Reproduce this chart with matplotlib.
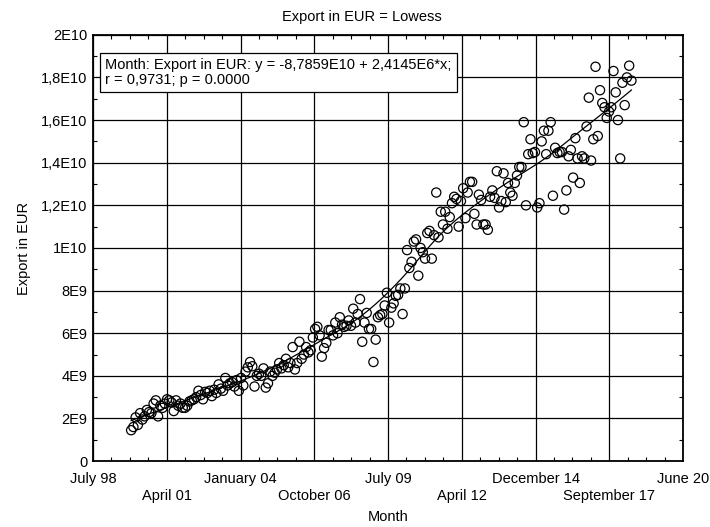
import numpy as np
import matplotlib
matplotlib.use("Agg")
import matplotlib.pyplot as plt
from matplotlib.ticker import FixedLocator, AutoMinorLocator

plt.rcParams["font.family"] = ["Liberation Sans", "DejaVu Sans"]

# Monthly export values (in 1E9 EUR), Dec 1999 .. Jul 2018
export_bn = (
    [1.45, 1.6, 2.05, 1.7, 2.25, 1.95, 2.1, 2.4, 2.3, 2.25, 2.7, 2.85]
    + [2.1, 2.6, 2.5, 2.7, 2.9, 2.85, 2.75, 2.35, 2.85, 2.6, 2.7, 2.5]
    + [2.5, 2.6, 2.8, 2.85, 2.9, 3.0, 3.3, 3.1, 2.9, 3.25, 3.2, 3.3]
    + [3.05, 3.35, 3.2, 3.6, 3.4, 3.3, 3.9, 3.55, 3.65, 3.7, 3.5, 3.8]
    + [3.3, 3.9, 3.55, 4.2, 4.4, 4.65, 4.45, 3.5, 4.0, 4.1, 4.0, 4.35]
    + [3.45, 3.65, 4.2, 4.0, 4.15, 4.3, 4.6, 4.35, 4.5, 4.8, 4.4, 4.6]
    + [5.35, 4.3, 4.6, 5.6, 4.8, 5.0, 5.35, 5.1, 5.2, 5.8, 6.2, 6.3]
    + [5.9, 4.9, 5.3, 5.55, 6.15, 6.15, 5.9, 6.5, 6.0, 6.75, 6.4, 6.3]
    + [6.35, 6.6, 6.35, 7.15, 6.5, 6.9, 7.6, 5.6, 6.5, 6.95, 6.2, 6.2]
    + [4.65, 5.7, 6.75, 6.85, 6.9, 7.3, 7.9, 6.5, 7.2, 7.4, 7.75, 7.8]
    + [8.1, 6.9, 8.1, 9.9, 9.06, 9.35, 10.3, 10.4, 8.7, 10.0, 9.8, 9.5]
    + [10.7, 10.8, 9.5, 10.6, 12.6, 10.5, 11.7, 11.1, 11.7, 10.9, 11.45, 12.1]
    + [12.4, 12.3, 11.0, 12.2, 12.8, 11.4, 12.6, 13.1, 13.1, 11.6, 11.1, 12.5]
    + [12.25, 11.1, 11.1, 10.85, 12.4, 12.7, 12.35, 13.6, 11.9, 12.2, 13.5, 12.15]
    + [13.05, 12.6, 12.45, 13.05, 13.4, 13.8, 13.8, 15.9, 12.0, 14.4, 15.1, 14.45]
    + [14.5, 11.9, 12.1, 15.0, 15.5, 14.4, 15.5, 15.9, 12.45, 14.7, 14.45, 14.5]
    + [14.5, 11.8, 12.7, 14.3, 14.6, 13.3, 15.15, 14.2, 13.05, 14.3, 14.2, 15.7]
    + [17.05, 14.1, 15.1, 18.5, 15.25, 17.4, 16.8, 16.6, 16.1, 16.4, 16.6, 18.3]
    + [17.3, 16.0, 14.2, 17.75, 16.7, 18.0, 18.55, 17.85]
)
first_month = 17  # months after July 1998

x_tick_labels = ["July 98", "April 01", "January 04", "October 06", "July 09",
                 "April 12", "December 14", "September 17", "June 20"]
x_max = 263
y_ticks = [0, 2e9, 4e9, 6e9, 8e9, 1e10, 1.2e10, 1.4e10, 1.6e10, 1.8e10, 2e10]
y_tick_labels = ["0", "2E9", "4E9", "6E9", "8E9", "1E10", "1,2E10", "1,4E10",
                 "1,6E10", "1,8E10", "2E10"]

y = np.array(export_bn) * 1e9
x = first_month + np.arange(len(y), dtype=float)


def lowess(x, y, frac=0.3, iters=2):
    n = len(x)
    r = int(np.ceil(frac * n))
    fit = np.zeros(n)
    robust = np.ones(n)
    for _ in range(iters + 1):
        for i in range(n):
            d = np.abs(x - x[i])
            h = np.sort(d)[r]
            w = np.clip(d / h, 0, 1)
            w = (1 - w ** 3) ** 3 * robust
            A = np.vstack([np.ones(n), x - x[i]]).T
            W = np.sqrt(w)
            coef = np.linalg.lstsq(A * W[:, None], y * W, rcond=None)[0]
            fit[i] = coef[0]
        res = y - fit
        s = np.median(np.abs(res))
        u = np.clip(res / (6 * s), -1, 1)
        robust = (1 - u ** 2) ** 2
    return fit


fs = 10.5
fig = plt.figure(figsize=(7.1, 5.27), dpi=100)
ax = fig.add_axes([0.131, 0.125, 0.831, 0.809])

ax.scatter(x, y, s=44, facecolors="none", edgecolors="black", linewidths=0.9, zorder=3)
ax.plot(x, lowess(x, y), color="black", linewidth=0.9, zorder=4)

ax.set_xlim(0, x_max)
ax.set_ylim(0, 2e10)
xt = np.linspace(0, x_max, 9)
ax.xaxis.set_major_locator(FixedLocator(xt))
ax.set_xticklabels(x_tick_labels)
ax.xaxis.set_minor_locator(AutoMinorLocator(4))
ax.set_yticks(y_ticks)
ax.set_yticklabels(y_tick_labels)
ax.yaxis.set_minor_locator(AutoMinorLocator(2))

ax.grid(True, which="major", color="black", linewidth=0.9)
ax.tick_params(which="both", direction="in", top=True, right=True, labelsize=fs)
ax.tick_params(which="major", length=0, pad=4)
ax.tick_params(which="minor", length=3, width=0.8)
# staggered date labels: every second one on a lower row
for i, tk in enumerate(ax.xaxis.get_major_ticks()):
    tk.set_pad(8 if i % 2 == 0 else 20)
for sp in ax.spines.values():
    sp.set_linewidth(1.3)

ax.set_title("Export in EUR = Lowess", fontsize=fs, pad=10, x=0.456)
ax.set_xlabel("Month", fontsize=fs, labelpad=5)
ax.set_ylabel("Export in EUR", fontsize=fs, labelpad=7)

ax.text(0.021, 0.945, "Month: Export in EUR: y = -8,7859E10 + 2,4145E6*x;\nr = 0,9731; p = 0.0000",
        transform=ax.transAxes, fontsize=fs, va="top", ha="left", zorder=5, linespacing=1.05,
        bbox=dict(boxstyle="square,pad=0.35", facecolor="white", edgecolor="black", linewidth=0.9))

fig.savefig("out.png", dpi=100)
